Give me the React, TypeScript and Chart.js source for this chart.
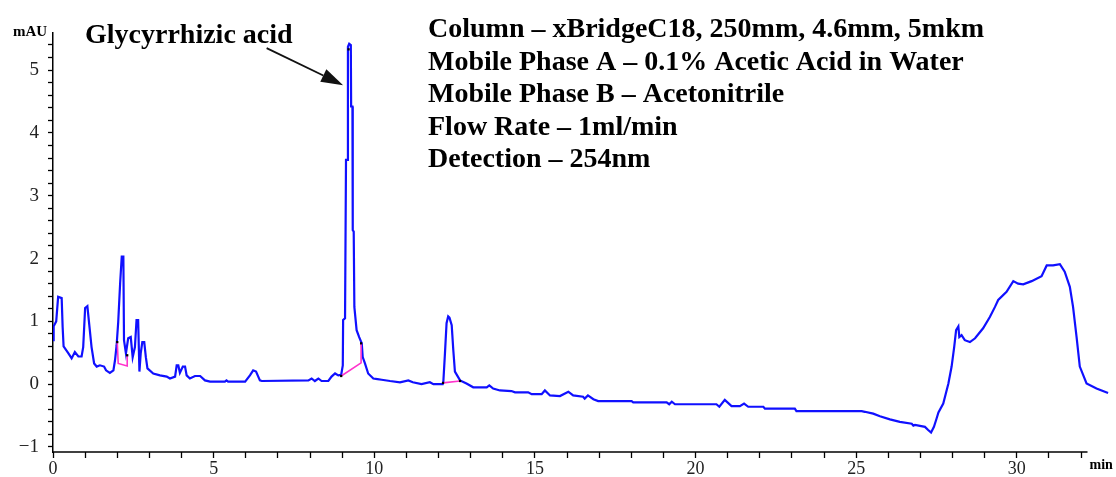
import { useEffect, useRef } from 'react';
import { Chart, registerables } from 'chart.js';

Chart.register(...registerables);

// Retention time (min) and detector signal (mAU) of the chromatogram trace
const retentionTimes = [
  0.0, 0.02, 0.1, 0.16, 0.27, 0.3, 0.33, 0.48, 0.58, 0.68, 0.79, 0.89, 0.94, 1.0, 1.07, 1.13, 1.2, 1.28, 1.36, 1.46,
  1.59, 1.65, 1.77, 1.88, 1.93, 1.98, 2.03, 2.09, 2.14, 2.19, 2.21, 2.27, 2.34, 2.42, 2.48, 2.55, 2.6, 2.65, 2.69, 2.73,
  2.78, 2.84, 2.89, 2.94, 3.12, 3.33, 3.54, 3.64, 3.8, 3.85, 3.9, 3.95, 4.04, 4.11, 4.16, 4.26, 4.42, 4.58, 4.73, 4.89,
  5.35, 5.4, 5.45, 5.98, 6.13, 6.23, 6.32, 6.44, 6.5, 7.95, 8.05, 8.15, 8.26, 8.36, 8.57, 8.67, 8.78, 8.88, 8.97, 9.02,
  9.03, 9.09, 9.12, 9.16, 9.18, 9.22, 9.27, 9.28, 9.32, 9.33, 9.36, 9.38, 9.45, 9.53, 9.61, 9.64, 9.71, 9.81, 9.97, 10.1,
  10.23, 10.49, 10.8, 11.06, 11.2, 11.47, 11.73, 11.84, 12.13, 12.15, 12.2, 12.25, 12.3, 12.34, 12.41, 12.46, 12.51, 12.67, 12.87, 13.08,
  13.5, 13.58, 13.7, 13.91, 14.27, 14.38, 14.79, 14.9, 15.21, 15.31, 15.47, 15.78, 16.04, 16.19, 16.5, 16.55, 16.65, 16.82, 16.97, 18.01,
  18.06, 19.1, 19.18, 19.26, 19.36, 20.65, 20.74, 20.91, 21.12, 21.38, 21.51, 21.64, 22.11, 22.16, 23.09, 23.14, 25.17, 25.27, 25.53, 25.74,
  26.05, 26.36, 26.73, 26.78, 26.83, 27.14, 27.24, 27.33, 27.42, 27.5, 27.56, 27.71, 27.87, 27.97, 28.05, 28.11, 28.18, 28.21, 28.28, 28.38,
  28.54, 28.7, 28.95, 29.16, 29.32, 29.42, 29.68, 29.89, 30.04, 30.2, 30.46, 30.77, 30.93, 31.13, 31.34, 31.49, 31.65, 31.75, 31.86, 31.96,
  32.17, 32.48, 32.84,
];
const absorbance = [
  0.7, 0.92, 1.0, 1.39, 1.37, 0.91, 0.6, 0.49, 0.41, 0.51, 0.44, 0.44, 0.59, 1.21, 1.24, 0.94, 0.59, 0.33, 0.28, 0.3,
  0.28, 0.22, 0.18, 0.22, 0.38, 0.62, 0.99, 1.61, 2.03, 2.03, 0.7, 0.49, 0.73, 0.75, 0.43, 0.59, 1.02, 1.02, 0.2, 0.49,
  0.67, 0.67, 0.43, 0.25, 0.17, 0.14, 0.12, 0.09, 0.12, 0.3, 0.3, 0.18, 0.28, 0.28, 0.14, 0.09, 0.13, 0.13, 0.06, 0.04,
  0.04, 0.06, 0.04, 0.04, 0.14, 0.22, 0.2, 0.06, 0.05, 0.06, 0.09, 0.05, 0.09, 0.05, 0.05, 0.12, 0.17, 0.14, 0.15, 0.3,
  1.02, 1.05, 3.57, 3.57, 5.37, 5.42, 5.4, 4.42, 4.42, 2.45, 2.43, 1.23, 0.86, 0.75, 0.65, 0.43, 0.33, 0.17, 0.09, 0.08,
  0.07, 0.05, 0.03, 0.06, 0.03, 0.0, 0.03, 0.0, 0.0, 0.04, 0.49, 0.97, 1.08, 1.06, 0.94, 0.54, 0.2, 0.06, 0.01, -0.05,
  -0.05, -0.02, -0.07, -0.1, -0.11, -0.13, -0.13, -0.16, -0.16, -0.1, -0.18, -0.19, -0.12, -0.18, -0.2, -0.23, -0.18, -0.24, -0.27, -0.27,
  -0.29, -0.29, -0.32, -0.28, -0.32, -0.32, -0.36, -0.25, -0.35, -0.35, -0.31, -0.36, -0.36, -0.39, -0.39, -0.43, -0.43, -0.44, -0.47, -0.51,
  -0.56, -0.6, -0.63, -0.66, -0.65, -0.68, -0.73, -0.77, -0.68, -0.55, -0.45, -0.31, 0.01, 0.28, 0.59, 0.86, 0.92, 0.75, 0.78, 0.7,
  0.67, 0.73, 0.89, 1.07, 1.23, 1.34, 1.47, 1.64, 1.6, 1.59, 1.64, 1.72, 1.89, 1.89, 1.91, 1.79, 1.55, 1.23, 0.75, 0.28,
  0.01, -0.07, -0.14,
];

// Integration baselines (magenta), separated by gaps
const baselineTimes = [2.0, 2.03, 2.31, 2.31, null, 8.97, 9.59, 9.59, null, 12.14, 12.67];
const baselineValues = [0.67, 0.33, 0.29, 0.46, null, 0.13, 0.34, 0.65, null, 0.02, 0.05];

// Peak start / end markers (black)
const markerTimes = [2.0, 2.31, 8.97, 9.59, 9.2, 12.14, 12.67];
const markerValues = [0.67, 0.46, 0.13, 0.65, 5.33, 0.02, 0.05];

// Axes
const xMin = 0;
const xMax = 32.9;
const xAxisEnd = 32.2;
const xMajorTicks = [0, 5, 10, 15, 20, 25, 30];
const xMinorStep = 1;
const xLastTick = 32;
const yMin = -1.08;
const yMax = 5.59;
const yMajorTicks = [-1, 0, 1, 2, 3, 4, 5];
const yMinorStep = 0.2;
const yLastTick = 5.4;

// Annotations
const peakLabel = 'Glycyrrhizic acid';
const arrowFrom = { x: 6.65, y: 5.35 };
const arrowTo = { x: 9.03, y: 4.76 };
const infoLines = [
  'Column – xBridgeC18, 250mm, 4.6mm, 5mkm',
  'Mobile Phase A – 0.1% Acetic Acid in Water',
  'Mobile Phase B – Acetonitrile',
  'Flow Rate – 1ml/min',
  'Detection – 254nm',
];
const yUnit = 'mAU';
const xUnit = 'min';

const SERIF = '"Liberation Serif", "Times New Roman", serif';

function buildTicks(first: number, last: number, step: number) {
  const out: number[] = [];
  const n = Math.round((last - first) / step);
  for (let i = 0; i <= n; i++) out.push(Math.round((first + i * step) * 1000) / 1000);
  return out;
}

const annotationPlugin = {
  id: 'chromAnnotations',
  afterDraw(chart: any) {
    const { ctx, chartArea } = chart;
    const xs = chart.scales.x;
    const ys = chart.scales.y;
    ctx.save();
    // x axis line (ends before the trace does)
    ctx.strokeStyle = '#000';
    ctx.lineWidth = 1.5;
    ctx.beginPath();
    ctx.moveTo(chartArea.left, chartArea.bottom);
    ctx.lineTo(xs.getPixelForValue(xAxisEnd), chartArea.bottom);
    ctx.stroke();

    ctx.fillStyle = '#000';
    ctx.textBaseline = 'alphabetic';
    ctx.textAlign = 'left';
    ctx.font = `bold 15px ${SERIF}`;
    ctx.fillText(yUnit, 13, 36);
    ctx.font = `bold 14px ${SERIF}`;
    ctx.fillText(xUnit, xs.getPixelForValue(xAxisEnd) + 2, 469);

    ctx.font = `bold 28px ${SERIF}`;
    ctx.fillText(peakLabel, 85, 43);
    infoLines.forEach((line, i) => ctx.fillText(line, 428, 37 + i * 32.5));

    // arrow
    const x1 = xs.getPixelForValue(arrowFrom.x);
    const y1 = ys.getPixelForValue(arrowFrom.y);
    const x2 = xs.getPixelForValue(arrowTo.x);
    const y2 = ys.getPixelForValue(arrowTo.y);
    const ang = Math.atan2(y2 - y1, x2 - x1);
    const headLen = 22;
    const headW = 7;
    const bx = x2 - headLen * Math.cos(ang);
    const by = y2 - headLen * Math.sin(ang);
    ctx.strokeStyle = '#111';
    ctx.lineWidth = 1.8;
    ctx.beginPath();
    ctx.moveTo(x1, y1);
    ctx.lineTo(bx, by);
    ctx.stroke();
    ctx.fillStyle = '#111';
    ctx.beginPath();
    ctx.moveTo(x2, y2);
    ctx.lineTo(bx + headW * Math.sin(ang), by - headW * Math.cos(ang));
    ctx.lineTo(bx - headW * Math.sin(ang), by + headW * Math.cos(ang));
    ctx.closePath();
    ctx.fill();
    ctx.restore();
  },
};

export default function App() {
  const canvasRef = useRef<HTMLCanvasElement | null>(null);

  useEffect(() => {
    if (!canvasRef.current) return;
    const trace = retentionTimes.map((t, i) => ({ x: t, y: absorbance[i] }));
    const baseline = baselineTimes.map((t, i) => ({ x: t, y: baselineValues[i] }));
    const markers = markerTimes.map((t, i) => ({ x: t, y: markerValues[i] }));
    const xTicks = buildTicks(xMin, xLastTick, xMinorStep);
    const yTicks = buildTicks(yMajorTicks[0], yLastTick, yMinorStep);

    const chart = new Chart(canvasRef.current, {
      type: 'line',
      data: {
        datasets: [
          {
            data: markers as any,
            showLine: false,
            pointRadius: 1.6,
            pointStyle: 'rect',
            pointBackgroundColor: '#000',
            pointBorderWidth: 0,
            order: 0,
          },
          {
            data: baseline as any,
            borderColor: '#ff33cc',
            borderWidth: 1.6,
            pointRadius: 0,
            spanGaps: false,
            tension: 0,
            order: 1,
          },
          {
            data: trace,
            borderColor: '#1010ff',
            borderWidth: 2.2,
            pointRadius: 0,
            tension: 0,
            order: 2,
          },
        ],
      },
      options: {
        animation: false,
        responsive: false,
        devicePixelRatio: 1,
        events: [],
        layout: { padding: { left: 0, top: 33, right: 6, bottom: 0 } },
        plugins: { legend: { display: false }, tooltip: { enabled: false } },
        scales: {
          x: {
            type: 'linear',
            min: xMin,
            max: xMax,
            afterBuildTicks: (scale: any) => {
              scale.ticks = xTicks.map((v) => ({ value: v }));
            },
            afterFit: (scale: any) => {
              scale.height = 25;
            },
            border: { display: false },
            grid: { drawOnChartArea: false, drawTicks: true, tickLength: 6, tickColor: '#000', tickWidth: 1.3 },
            ticks: {
              autoSkip: false,
              maxRotation: 0,
              padding: 0,
              color: '#222',
              font: { family: SERIF, size: 18 },
              callback: (v: any) => (xMajorTicks.includes(Number(v)) ? String(v) : ''),
            },
          },
          y: {
            type: 'linear',
            min: yMin,
            max: yMax,
            afterBuildTicks: (scale: any) => {
              scale.ticks = yTicks.map((v) => ({ value: v }));
            },
            afterFit: (scale: any) => {
              scale.width = 53;
            },
            border: { display: true, color: '#000', width: 1.5 },
            grid: { drawOnChartArea: false, drawTicks: true, tickLength: 5, tickColor: '#000', tickWidth: 1.3 },
            ticks: {
              autoSkip: false,
              padding: 9,
              color: '#222',
              font: { family: SERIF, size: 19 },
              callback: (v: any) => {
                const n = Number(v);
                return yMajorTicks.some((m) => Math.abs(m - n) < 1e-6) ? (n < 0 ? '−' + Math.abs(n) : String(n)) : '';
              },
            },
          },
        },
      },
      plugins: [annotationPlugin],
    });
    return () => chart.destroy();
  }, []);

  return (
    <div style={{ position: 'absolute', left: 0, top: 0, width: 1116, height: 477, background: '#fff' }}>
      <canvas ref={canvasRef} width={1116} height={477} />
    </div>
  );
}
